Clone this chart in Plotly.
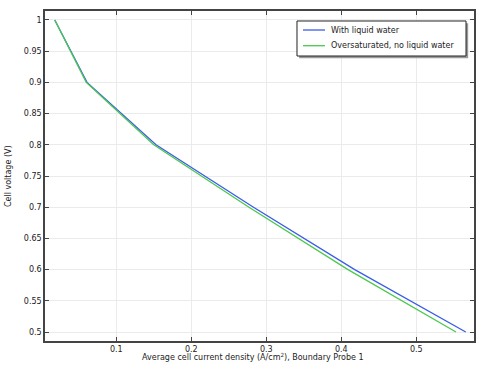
import plotly.graph_objects as go

voltage = [1.0, 0.9, 0.8, 0.7, 0.6, 0.5]
current_liquid = [0.018, 0.061, 0.153, 0.283, 0.418, 0.566]
current_oversat = [0.018, 0.060, 0.150, 0.277, 0.409, 0.553]
series_names = ["With liquid water", "Oversaturated, no liquid water"]
series_colors = ["#3a5ce8", "#4cc84f"]
x_ticks = [0.1, 0.2, 0.3, 0.4, 0.5]
y_ticks = [0.5, 0.55, 0.6, 0.65, 0.7, 0.75, 0.8, 0.85, 0.9, 0.95, 1.0]
y_tick_text = ["0.5", "0.55", "0.6", "0.65", "0.7", "0.75", "0.8", "0.85", "0.9", "0.95", "1"]
x_title = "Average cell current density (A/cm<sup>2</sup>), Boundary Probe 1"
y_title = "Cell voltage (V)"

FONT = "DejaVu Sans"
FS = 8

fig = go.Figure()
fig.add_trace(go.Scatter(x=current_liquid, y=voltage, mode="lines", name=series_names[0],
                         line=dict(color=series_colors[0], width=1.3), showlegend=False))
fig.add_trace(go.Scatter(x=current_oversat, y=voltage, mode="lines", name=series_names[1],
                         line=dict(color=series_colors[1], width=1.3), showlegend=False))

axis_common = dict(showline=True, linecolor="#444444", linewidth=1.5, mirror="ticks",
                   ticks="inside", ticklen=4, tickcolor="#444444", automargin=False,
                   showgrid=True, gridcolor="#ebebeb", gridwidth=1, zeroline=False,
                   tickfont=dict(size=FS, color="#222222", family=FONT))

# custom legend (paper coordinates)
lx0, lx1, ly0, ly1 = 0.5874, 0.9814, 0.8636, 0.9697
shapes = [
    dict(type="rect", xref="paper", yref="paper", x0=lx0 + 0.005, x1=lx1 + 0.005,
         y0=ly0 - 0.007, y1=ly1 - 0.007, fillcolor="#9a9a9a", line=dict(width=0)),
    dict(type="rect", xref="paper", yref="paper", x0=lx0, x1=lx1, y0=ly0, y1=ly1,
         fillcolor="white", line=dict(color="#222222", width=1)),
]
annotations = []
row_y = [0.9424, 0.8948]
for i in range(2):
    shapes.append(dict(type="line", xref="paper", yref="paper", x0=0.6014, x1=0.6527,
                       y0=row_y[i], y1=row_y[i], line=dict(color=series_colors[i], width=1.3)))
    annotations.append(dict(text=series_names[i], xref="paper", yref="paper", x=0.662, y=row_y[i],
                            xanchor="left", yanchor="middle", showarrow=False,
                            font=dict(size=FS, family=FONT, color="#222222")))
annotations.append(dict(text=x_title, xref="paper", yref="paper", x=0.485, y=-0.0485,
                        xanchor="center", yanchor="middle", showarrow=False,
                        font=dict(size=FS, family=FONT, color="#222222")))
annotations.append(dict(text=y_title, xref="paper", yref="paper", x=-0.0862, y=0.5,
                        xanchor="center", yanchor="middle", showarrow=False, textangle=-90,
                        font=dict(size=FS, family=FONT, color="#222222")))

fig.update_layout(
    width=479, height=366,
    margin=dict(l=45, r=5, t=11, b=25, autoexpand=False),
    paper_bgcolor="white", plot_bgcolor="white",
    font=dict(family=FONT, size=FS, color="#222222"),
    xaxis=dict(range=[0.005, 0.577], tickvals=x_ticks, **axis_common),
    yaxis=dict(range=[0.4856, 1.0144], tickvals=y_ticks, ticktext=y_tick_text, **axis_common),
    shapes=shapes, annotations=annotations,
    showlegend=False,
)

fig.write_html("out.html", config={"displayModeBar": False},
               post_script="document.body.style.margin='0';document.body.style.overflow='hidden';")
